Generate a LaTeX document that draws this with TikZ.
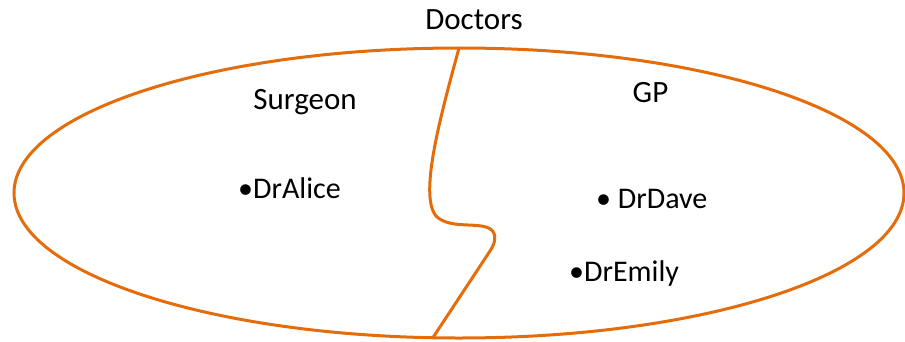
\documentclass[tikz,border=0pt]{standalone}
\usepackage{fontspec}
\setmainfont{Carlito}
\usetikzlibrary{shapes.geometric}
\definecolor{setorange}{RGB}{228,108,10}
\begin{document}
\begin{tikzpicture}[x=1pt,y=-1pt,
  setline/.style={draw=setorange,line width=3pt},
  title/.style={inner sep=0pt,anchor=base,font=\fontsize{31}{36}\selectfont},
  member/.style={inner sep=0pt,anchor=base west,font=\fontsize{30}{36}\selectfont}]
  \useasboundingbox (0,0) rectangle (905,341);
  % the set of all doctors
  \node[setline,ellipse,minimum width=890pt,minimum height=290pt,inner sep=0pt] (doctors) at (459,193) {};
  \coordinate (dtop) at (459,48);
  \coordinate (dbot) at (433,337.5);
  % boundary between the two subsets
  \draw[setline,line cap=round,line join=round] (dtop)
    .. controls (440,118) and (418,198) .. (437,217)
    .. controls (450,228) and (472,223) .. (486,227)
    .. controls (497,230) and (497,241) .. (490,251)
    -- (dbot);
  % labels
  \node[title] (lblDoctors) at (474,29) {Doctors};
  \node[title] (lblSurgeon) at (305,109) {Surgeon};
  \node[title] (lblGP) at (650.5,102) {GP};
  % members
  \node[member] (alice) at (238,198) {•DrAlice};
  \node[member] (dave) at (596,208) {• DrDave};
  \node[member] (emily) at (569,281) {•DrEmily};
\end{tikzpicture}
\end{document}
